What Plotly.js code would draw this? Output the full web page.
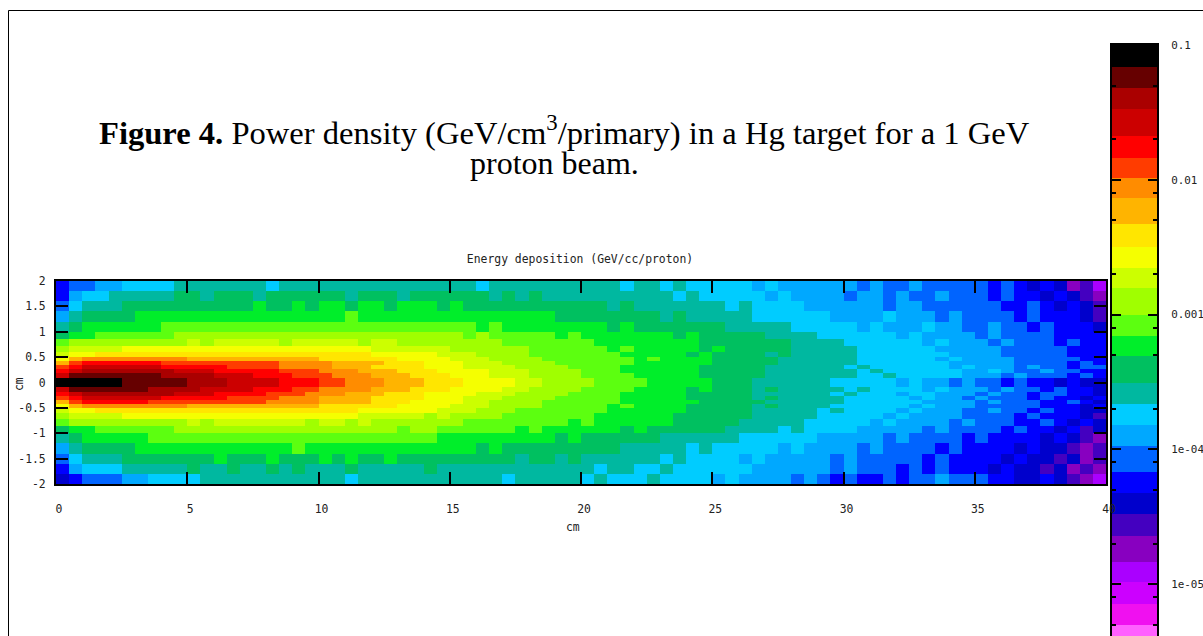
<!DOCTYPE html>
<html><head><meta charset="utf-8">
<script src="https://cdn.plot.ly/plotly-3.0.1.min.js"></script>
<style>html,body{margin:0;padding:0;background:#fff;overflow:hidden}</style>
</head><body><div id="chart" style="width:1203px;height:636px"></div>
<script>
const bandColors=["#000000","#660000","#aa0000","#cc0000","#ff0000","#ff3c00","#ff8c00","#ffb400","#ffe600","#f5ff00","#ccff00","#a0ff00","#5cff10","#00ee2a","#00c060","#00b8a0","#00ccff","#00a8ff","#0064ff","#0000ff","#0000cc","#4400c0","#8800c0","#aa00ff","#cc00ff","#f010f0","#ff60ff"];
const bandLogEdges=[-1,-1.163,-1.319,-1.474,-1.674,-1.837,-1.985,-2.133,-2.326,-2.496,-2.652,-2.8,-3,-3.156,-3.311,-3.511,-3.667,-3.822,-3.978,-4.17,-4.326,-4.481,-4.644,-4.837,-4.985,-5.148,-5.304,-5.385];
const yEdges=[-2,-1.8,-1.6,-1.4,-1.2,-1,-.85,-.72,-.6,-.5,-.42,-.34,-.26,-.18,-.08,.08,.18,.26,.34,.42,.5,.6,.72,.85,1,1.2,1.4,1.6,1.8,2];
const xTicks=[0,5,10,15,20,25,30,35,40];
const xLabels=["0","5","10","15","20","25","30","35","40"];
const yTicks=[2,1.5,1,.5,0,-.5,-1,-1.5,-2];
const yLabels=["2","1.5","1","0.5","0","-0.5","-1","-1.5","-2"];
const scaleTicks=[-1,-2,-3,-4,-5];
const scaleLabels=["0.1","0.01","0.001","1e-04","1e-05"];
const scaleMinor=[-1.301,-1.699,-2.097,-2.301,-2.699,-3.097,-3.301,-3.699,-4.097,-4.301,-4.699,-5.097,-5.301];

const rowP19=[19,18,18,17,17,16,16,16,16,15, 15,15,15,15,15,15,16,15,15,15, 15,15,15,15,15,15,15,15,15,15, 15,15,16,15,15,15,15,15,15,15, 15,15,15,16,15,15,16,15,16,16, 16,16,16,17,16,17,17,17,17,17, 17,18,17,18,18,17,18,18,18,18, 18,19,18,19,20,19,20,22,21,23];
const rowP17=[19,17,16,16,15,15,15,15,15,14, 14,15,14,14,14,15,14,14,14,14, 14,14,15,14,14,14,15,14,14,14, 14,14,14,15,14,15,14,15,15,15, 15,15,15,15,15,15,15,16,15,16, 16,16,16,16,17,16,17,17,17,17, 18,17,17,18,17,18,18,17,18,18, 18,19,18,19,19,20,19,20,21,22];
const rowP15=[18,16,15,15,15,14,14,14,14,14, 14,14,14,14,14,13,14,14,13,14, 13,13,14,13,13,14,13,13,13,14, 13,14,14,14,14,14,14,14,14,14, 14,14,15,14,15,15,15,15,15,15, 15,16,15,16,16,16,16,17,17,17, 17,17,17,18,17,17,18,18,18,18, 18,18,19,19,18,19,20,19,20,21];
const rowP13=[17,15,14,14,14,14,13,13,13,13, 13,13,13,13,13,13,13,13,13,13, 13,13,12,13,13,13,13,13,13,13, 13,13,13,13,13,13,13,13,14,14, 14,14,14,14,14,14,15,14,15,15, 15,15,15,16,16,16,16,16,16,17, 17,17,17,16,17,17,17,18,17,18, 18,18,18,19,18,19,19,19,20,21];
const rowP11=[15,14,13,13,13,13,13,13,12,12, 12,12,12,12,12,12,12,12,12,12, 12,12,12,12,12,12,12,12,12,12, 12,12,13,12,13,13,13,13,13,13, 13,13,14,13,14,14,14,14,14,14, 14,15,15,15,15,15,16,16,16,16, 16,17,16,17,17,17,16,17,17,18, 18,17,18,18,19,18,19,19,19,20];
const rowP09=[14,13,13,12,12,12,12,12,12,11, 11,11,11,11,11,11,11,11,11,11, 11,11,11,11,11,11,11,11,11,11, 11,12,11,12,12,12,12,12,13,12, 13,13,13,13,13,13,13,14,13,14, 14,14,14,14,15,15,15,15,16,16, 16,16,16,16,17,16,17,17,17,17, 18,17,18,18,18,18,19,19,19,19];
const rowP08=[12,11,11,11,11,11,11,11,11,11, 10,11,10,10,10,10,10,11,10,10, 10,10,10,11,10,10,11,11,11,11, 11,11,11,11,12,12,12,12,12,12, 12,13,13,13,13,13,13,13,13,14, 14,14,14,14,14,14,15,15,15,15, 16,16,16,16,16,16,17,16,17,17, 17,18,17,18,18,18,19,18,19,19];
const rowP07=[11,10,10,10,10,9,9,9,9,9, 9,9,9,9,9,9,9,9,9,9, 9,9,9,9,10,10,10,10,10,10, 11,11,11,11,11,11,12,12,12,12, 12,12,13,12,13,13,13,13,13,14, 13,14,14,14,14,14,15,15,15,15, 15,16,16,16,16,16,16,17,17,17, 17,17,18,18,18,18,18,19,19,19];
const rowP06=[10,9,9,8,8,8,8,8,8,8, 8,8,8,8,8,8,8,8,8,8, 8,8,8,8,9,9,9,9,9,10, 10,10,11,11,11,11,12,12,12,12, 12,12,12,13,13,13,13,13,14,13, 14,14,14,14,15,14,15,15,15,15, 15,16,16,16,16,16,16,16,17,17, 17,17,18,18,18,18,18,19,19,19];
const rowP05=[9,7,6,6,6,6,6,6,6,6, 7,7,7,7,7,7,7,7,7,7, 8,8,8,8,8,8,9,9,9,9, 10,10,10,11,11,11,11,12,12,12, 12,12,12,12,13,12,13,13,13,13, 14,14,14,14,14,15,15,15,15,15, 15,16,16,16,16,16,16,17,16,17, 17,17,17,18,18,18,18,18,19,19];
const rowP04=[7,5,4,4,4,4,4,4,5,5, 5,5,5,5,5,5,5,6,6,6, 6,7,7,7,7,8,8,8,9,9, 9,10,10,10,11,11,11,11,12,12, 12,12,12,12,13,13,13,13,13,13, 14,14,14,14,14,15,15,15,15,15, 15,16,16,16,16,16,16,16,17,17, 17,17,17,18,18,18,18,19,18,19];
const rowP03=[5,4,3,3,3,3,3,3,4,4, 4,4,4,5,5,5,5,6,6,6, 6,7,7,7,8,8,8,8,9,9, 9,10,10,10,10,11,11,11,11,12, 12,12,12,13,13,13,13,13,13,14, 14,14,14,14,15,15,15,15,15,15, 16,15,16,16,16,16,16,16,17,16, 17,17,17,18,17,18,18,19,18,18];
const rowP02=[4,3,2,2,2,2,2,2,2,3, 3,3,4,4,4,4,4,5,5,5, 6,6,6,7,7,7,8,8,8,9, 9,9,9,10,10,10,11,11,11,11, 12,12,12,13,13,13,13,13,13,14, 14,14,14,14,15,15,15,15,15,15, 15,16,15,16,16,16,16,16,16,17, 17,16,17,18,18,17,18,18,19,19];
const rowP01=[3,1,1,1,1,1,1,1,2,2, 2,2,3,3,3,4,4,4,5,5, 5,6,6,6,7,7,7,8,8,8, 9,9,9,10,10,10,11,11,11,11, 12,12,12,12,13,13,13,13,13,14, 14,14,14,14,15,15,15,15,15,15, 15,16,16,15,16,16,16,16,16,17, 17,17,18,17,18,18,18,19,18,19];
const rowC00=[0,0,0,0,0,1,1,1,1,1, 2,2,2,3,3,3,3,4,4,4, 5,5,6,6,6,7,7,7,8,8, 8,9,9,9,9,10,10,11,11,11, 11,12,12,12,12,13,13,13,13,13, 14,14,14,15,15,15,15,15,15,16, 16,16,16,16,17,16,17,17,18,17, 18,18,19,18,19,19,20,19,20,20];
const rowM01=[3,1,1,1,1,1,1,2,2,2, 2,3,3,3,3,4,4,4,5,5, 6,6,6,6,7,7,7,8,8,8, 9,9,9,9,10,10,11,11,11,11, 12,12,12,12,13,13,13,13,14,13, 14,14,14,15,14,15,15,15,15,15, 16,15,16,16,16,16,17,16,17,17, 17,18,17,18,18,19,18,19,19,20];
const rowM02=[4,3,2,2,2,2,2,2,2,3, 3,3,4,4,4,4,5,5,5,6, 6,6,7,7,7,8,8,8,9,9, 9,9,10,10,10,11,11,11,11,12, 12,12,12,13,13,13,13,13,14,14, 14,14,14,15,15,15,15,15,15,16, 15,16,16,16,17,16,16,17,17,17, 18,17,18,18,19,18,18,19,19,20];
const rowM03=[5,4,3,3,3,3,3,3,4,4, 4,4,4,5,5,5,5,6,6,6, 7,7,7,7,8,8,8,8,9,9, 9,10,10,10,11,11,11,11,12,12, 12,12,12,13,13,13,13,13,14,14, 14,14,14,15,14,15,15,15,15,15, 16,16,16,16,16,17,16,17,17,18, 17,18,18,18,19,18,19,19,20,19];
const rowM04=[7,5,4,4,4,4,4,5,5,5, 5,5,5,5,5,5,6,6,6,6, 7,7,7,7,8,8,8,9,9,9, 9,10,10,11,11,11,11,12,12,12, 12,12,12,13,13,13,13,13,13,14, 14,14,14,14,15,15,15,15,15,15, 16,16,16,16,16,16,17,17,17,17, 18,17,18,18,18,19,19,18,19,20];
const rowM05=[9,7,6,6,6,6,6,6,6,6, 7,7,7,7,7,7,7,7,7,7, 8,8,8,8,8,8,9,9,9,9, 10,10,10,11,11,11,11,12,12,12, 12,12,13,12,13,13,13,13,14,14, 14,14,14,15,14,15,15,15,15,16, 16,16,16,16,16,17,16,17,17,17, 18,18,18,18,18,19,19,19,20,19];
const rowM06=[10,9,9,8,8,8,8,8,8,8, 8,8,8,8,8,8,8,8,8,8, 8,8,8,9,9,9,9,9,9,10, 10,10,11,11,11,12,12,12,12,12, 12,12,13,13,13,13,13,13,14,14, 14,14,14,15,15,15,15,15,16,15, 16,16,16,16,17,16,17,17,17,18, 18,17,18,18,19,18,19,19,20,20];
const rowM07=[11,10,10,10,10,9,9,9,9,9, 9,9,9,9,9,9,9,9,9,9, 9,9,9,10,10,10,10,10,11,10, 11,11,11,11,12,12,12,12,12,12, 12,13,13,13,13,13,13,14,14,14, 14,14,14,15,15,15,15,15,16,16, 16,16,16,17,16,17,17,17,17,18, 18,18,18,19,18,19,19,19,20,21];
const rowM08=[12,11,11,11,11,11,11,11,11,11, 10,11,10,10,10,10,10,10,10,11, 10,10,11,10,11,11,11,11,11,11, 11,12,12,12,12,12,12,12,12,13, 12,13,13,13,13,13,13,14,14,14, 14,14,15,15,15,15,15,16,16,16, 16,16,17,16,17,17,17,17,18,17, 18,18,18,19,19,18,19,20,19,20];
const rowM09=[14,13,13,12,12,12,12,12,12,11, 11,11,11,11,11,11,11,11,11,11, 11,11,11,11,11,11,12,11,11,12, 12,12,12,12,12,13,12,13,13,13, 13,13,13,14,13,14,14,14,14,14, 14,15,15,15,15,16,15,16,16,16, 16,17,17,17,17,17,18,17,18,18, 18,18,19,18,19,19,20,19,21,20];
const rowM11=[15,14,13,13,13,13,13,12,12,12, 12,12,12,12,12,12,12,12,12,12, 12,12,12,12,12,12,12,12,12,13, 13,13,13,13,13,13,13,13,14,13, 14,14,14,14,14,14,15,15,15,15, 15,15,16,16,16,16,16,16,17,17, 17,17,17,18,17,18,18,18,18,19, 18,19,19,19,19,20,19,20,21,22];
const rowM13=[17,15,14,14,14,14,13,13,13,13, 13,13,13,13,13,13,13,13,12,13, 13,13,13,13,13,13,13,13,13,13, 13,13,14,13,14,14,14,14,14,14, 14,14,14,15,15,15,15,15,16,15, 16,16,16,16,16,17,16,17,17,17, 17,18,17,18,18,18,18,19,18,19, 19,19,19,20,19,20,20,21,22,21];
const rowM15=[18,16,15,15,15,14,14,14,14,14, 14,14,13,14,14,14,13,14,14,14, 13,14,13,14,14,13,14,14,14,14, 14,14,14,14,14,15,14,14,15,14, 15,15,15,15,15,15,16,15,16,16, 16,16,17,16,17,17,17,17,17,18, 17,18,18,18,18,18,19,18,19,19, 19,19,20,19,20,20,21,20,22,21];
const rowM17=[19,17,16,16,16,15,15,15,15,15, 14,15,15,14,15,15,14,15,14,15, 15,15,14,15,15,15,15,15,14,15, 15,15,15,15,15,15,15,15,15,15, 15,16,15,15,16,16,15,16,16,16, 16,16,16,17,17,17,17,17,17,18, 17,18,18,18,19,18,19,18,19,19, 19,20,19,20,20,21,20,22,21,22];
const rowM19=[20,19,18,18,18,17,17,16,16,16, 16,15,15,15,15,15,15,15,15,15, 15,15,16,15,15,15,15,15,15,15, 15,15,15,15,16,15,15,15,15,15, 16,15,16,16,16,15,16,16,16,16, 17,16,17,17,17,17,18,17,18,19, 18,19,19,18,19,18,18,17,18,18, 18,19,19,20,20,19,20,21,22,23];

const zRows=[rowM19,rowM17,rowM15,rowM13,rowM11,rowM09,rowM08,rowM07,rowM06,rowM05,rowM04,rowM03,rowM02,rowM01,rowC00,rowP01,rowP02,rowP03,rowP04,rowP05,rowP06,rowP07,rowP08,rowP09,rowP11,rowP13,rowP15,rowP17,rowP19];

const n=bandColors.length;
const colorscale=[];
bandColors.forEach((c,i)=>{colorscale.push([i/n,c]);colorscale.push([(i+1)/n,c]);});
const scaleZ=bandColors.map((_,i)=>[i]);
const W=1203,H=636;
const textColor="#222";
const tickFont={family:"DejaVu Sans Mono",size:11.4,color:textColor};
const scaleFont={family:"DejaVu Sans Mono",size:10.9,color:textColor};

const traces=[
 {type:"heatmap",z:scaleZ,x:[0,1],y:bandLogEdges,zsmooth:false,colorscale,zmin:-.5,zmax:n-.5,showscale:false,xaxis:"x",yaxis:"y",hoverinfo:"skip"},
 {type:"heatmap",z:zRows,x0:.25,dx:.5,y:yEdges,zsmooth:false,colorscale,zmin:-.5,zmax:n-.5,showscale:false,xaxis:"x2",yaxis:"y2",hoverinfo:"skip"}
];
const layout={
 width:W,height:H,margin:{l:0,r:0,t:0,b:0},paper_bgcolor:"#fff",plot_bgcolor:"rgba(0,0,0,0)",showlegend:false,
 title:{text:"Energy deposition (GeV/cc/proton)",font:tickFont,x:580/W,xanchor:"center",y:1-259/H,yanchor:"middle"},
 xaxis2:{domain:[56/W,1106/W],range:[0,40],anchor:"y2",tickvals:xTicks,ticktext:xLabels,ticks:"inside",ticklen:12,tickwidth:2,tickcolor:"#000",showline:true,linewidth:2,linecolor:"#000",mirror:"ticks",showgrid:false,zeroline:false,tickfont:tickFont,tickangle:0,ticklabelstandoff:13,ticklabelshift:3,automargin:false},
 yaxis2:{domain:[(H-484)/H,(H-281)/H],range:[-2,2],anchor:"x2",tickvals:yTicks,ticktext:yLabels,ticks:"inside",ticklen:12,tickwidth:2,tickcolor:"#000",showline:true,linewidth:2,linecolor:"#000",mirror:"ticks",showgrid:false,zeroline:false,tickfont:tickFont,ticklabelstandoff:6,automargin:false},
 xaxis:{domain:[1112/W,1157/W],range:[0,1],anchor:"y",showticklabels:false,ticks:"",showline:true,linewidth:2,linecolor:"#000",mirror:true,showgrid:false,zeroline:false},
 yaxis:{domain:[0,(H-45)/H],range:[-5.385,-1],anchor:"x",side:"right",tickvals:scaleTicks,ticktext:scaleLabels,ticks:"inside",ticklen:9,tickwidth:2,tickcolor:"#000",showline:true,linewidth:2,linecolor:"#000",mirror:"ticks",showgrid:false,zeroline:false,tickfont:scaleFont,ticklabelstandoff:10,
   minor:{tickvals:scaleMinor,ticks:"inside",ticklen:4,tickwidth:2,tickcolor:"#000",showgrid:false}},
 shapes:[
  {type:"line",xref:"paper",yref:"paper",x0:8.5/W,x1:8.5/W,y0:0,y1:1-10.5/H,line:{color:"#000",width:1}},
  {type:"line",xref:"paper",yref:"paper",x0:8.5/W,x1:1,y0:1-10.5/H,y1:1-10.5/H,line:{color:"#000",width:1}}
 ],
 annotations:[
  {text:"<b>Figure 4.</b> Power density (GeV/cm<sup>3</sup>/primary) in a Hg target for a 1 GeV",xref:"paper",yref:"paper",x:564/W,y:1-130/H,xanchor:"center",yanchor:"middle",showarrow:false,font:{family:"Liberation Serif",size:32.6,color:"#000"}},
  {text:"proton beam.",xref:"paper",yref:"paper",x:554/W,y:1-163/H,xanchor:"center",yanchor:"middle",showarrow:false,font:{family:"Liberation Serif",size:32,color:"#000"}},
  {text:"cm",xref:"paper",yref:"paper",x:573/W,y:1-527/H,xanchor:"center",yanchor:"middle",showarrow:false,font:tickFont},
  {text:"cm",xref:"paper",yref:"paper",x:19/W,y:1-384/H,xanchor:"center",yanchor:"middle",textangle:-90,showarrow:false,font:tickFont}
 ]
};
Plotly.newPlot("chart",traces,layout,{displayModeBar:false,responsive:false});
</script></body></html>
